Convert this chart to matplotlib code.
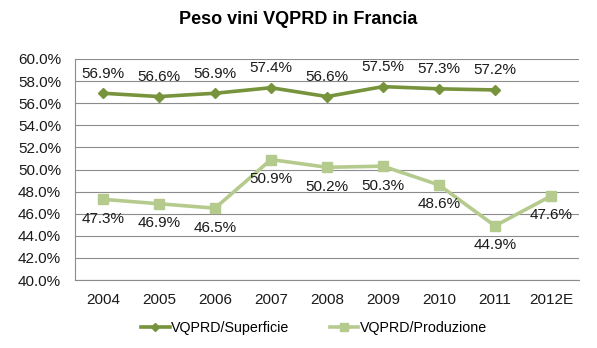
import matplotlib.pyplot as plt
from matplotlib.ticker import FuncFormatter

years = ["2004", "2005", "2006", "2007", "2008", "2009", "2010", "2011", "2012E"]
superficie = [56.9, 56.6, 56.9, 57.4, 56.6, 57.5, 57.3, 57.2, None]
produzione = [47.3, 46.9, 46.5, 50.9, 50.2, 50.3, 48.6, 44.9, 47.6]

c_sup = "#77933C"
c_prod = "#B5CB8E"

plt.rcParams['font.family'] = ['Liberation Sans', 'DejaVu Sans']

fig = plt.figure(figsize=(5.97, 3.48), dpi=100)
ax = fig.add_axes([75 / 597, 1 - 280 / 348, 504 / 597, 221 / 348])

x = list(range(len(years)))
xs = [i for i, v in zip(x, superficie) if v is not None]
vs = [v for v in superficie if v is not None]

ax.plot(xs, vs, color=c_sup, lw=2.6, marker="D", ms=5.5, label="VQPRD/Superficie", zorder=3)
ax.plot(x, produzione, color=c_prod, lw=2.6, marker="s", ms=7, label="VQPRD/Produzione", zorder=3)

fs = 11
for i, v in zip(xs, vs):
    ax.annotate(f"{v:.1f}%", (i, v), xytext=(0, 14), textcoords="offset points",
                ha="center", va="center", fontsize=fs, color="#1a1a1a")
for i, v in zip(x, produzione):
    ax.annotate(f"{v:.1f}%", (i, v), xytext=(0, -14), textcoords="offset points",
                ha="center", va="center", fontsize=fs, color="#1a1a1a")

ax.set_xlim(-0.5, len(years) - 0.5)
ax.set_ylim(40, 60)
ax.set_yticks([40 + 2 * k for k in range(11)])
ax.yaxis.set_major_formatter(FuncFormatter(lambda v, p: f"{v:.1f}%"))
ax.set_xticks(x)
ax.set_xticklabels(years)
ax.tick_params(axis="both", length=0, labelsize=fs, colors="#1a1a1a")
ax.tick_params(axis="x", pad=9)
ax.tick_params(axis="y", pad=10)
ax.grid(axis="y", color="#8c8c8c", lw=0.8)
ax.set_axisbelow(True)
for s in ["top", "right"]:
    ax.spines[s].set_visible(False)
ax.spines["left"].set_color("#8c8c8c")
ax.spines["bottom"].set_color("#8c8c8c")

fig.text(0.5, 1 - 20 / 348, "Peso vini VQPRD in Francia", ha="center", va="center",
         fontsize=13, fontweight="bold")

fig.legend(loc="center", bbox_to_anchor=(314 / 597, 1 - 328 / 348), ncol=2, frameon=False,
           fontsize=10.3, handlelength=2.0, columnspacing=2.8, handletextpad=0.1,
           markerscale=0.8)

fig.savefig("out.png", dpi=100)
